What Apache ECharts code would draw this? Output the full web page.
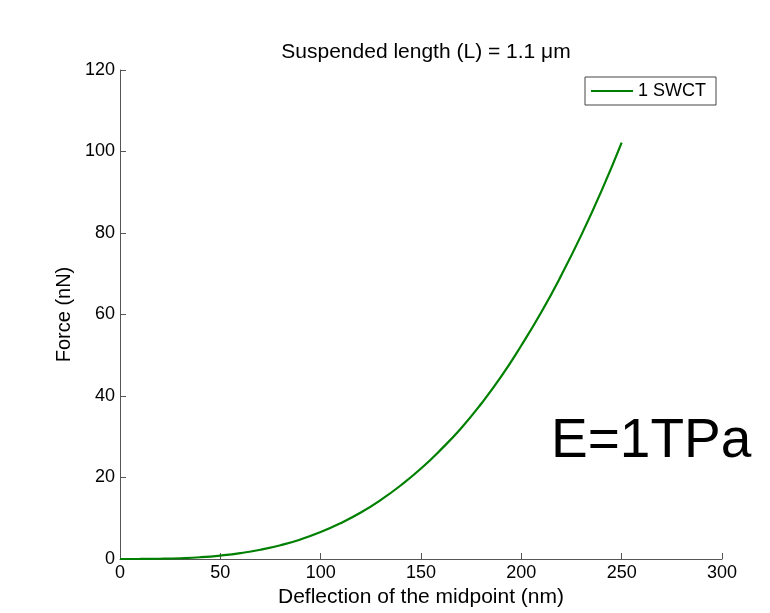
<!DOCTYPE html>
<html>
<head>
<meta charset="utf-8">
<script src="https://cdn.jsdelivr.net/npm/echarts@6/dist/echarts.min.js"></script>
<style>
  html, body { margin: 0; padding: 0; background: #fff; }
  #chart { width: 770px; height: 613px; }
</style>
</head>
<body>
<div id="chart"></div>
<script>
// Midpoint deflection (nm) and applied force (nN) for one SWCNT, L = 1.1 µm
const deflection = [0, 10, 20, 30, 40, 50, 60, 70, 80, 90, 100, 110, 120, 130, 140, 150, 160, 170, 180, 190, 200, 210, 220, 230, 240, 250];
const force = [0, 0.01, 0.06, 0.19, 0.43, 0.84, 1.43, 2.27, 3.38, 4.8, 6.6, 8.8, 11.4, 14.5, 18.1, 22.2, 26.9, 32.1, 38.1, 44.8, 52.4, 60.6, 69.7, 79.6, 90.4, 102.2];
const seriesName = '1 SWCT';
const xTicks = [0, 50, 100, 150, 200, 250, 300];
const yTicks = [0, 20, 40, 60, 80, 100, 120];

const FONT = '"Liberation Sans", Arial, sans-serif';
const axisColor = '#555';

const chart = echarts.init(document.getElementById('chart'), null, { renderer: 'canvas' });

chart.setOption({
  animation: false,
  backgroundColor: '#fff',
  title: {
    text: 'Suspended length (L) = 1.1 \u03bcm',
    left: 421,
    textAlign: 'center',
    top: 37,
    textStyle: { fontFamily: FONT, fontSize: 21, fontWeight: 'normal', color: '#000' }
  },
  grid: { left: 120, right: 48, top: 70, bottom: 53 },
  legend: {
    data: [seriesName],
    left: 585,
    top: 77,
    orient: 'vertical',
    padding: [5, 10, 5, 6],
    itemWidth: 42,
    itemHeight: 18,
    itemGap: 4,
    borderColor: '#444',
    borderWidth: 1,
    borderRadius: 0,
    icon: 'path://M0,8 L42,8 L42,10 L0,10 Z',
    textStyle: { fontFamily: FONT, fontSize: 18, color: '#000', padding: [0, 0, 0, 0] }
  },
  xAxis: {
    type: 'value',
    min: xTicks[0],
    max: xTicks[xTicks.length - 1],
    interval: 50,
    name: 'Deflection of the midpoint (nm)',
    nameLocation: 'middle',
    nameGap: 28,
    nameTextStyle: { fontFamily: FONT, fontSize: 21, color: '#000' },
    axisLine: { show: true, lineStyle: { color: axisColor, width: 1 } },
    axisTick: { show: true, inside: true, length: 6, lineStyle: { color: axisColor } },
    axisLabel: { fontFamily: FONT, fontSize: 18, color: '#000', margin: 5 },
    splitLine: { show: false }
  },
  yAxis: {
    type: 'value',
    min: yTicks[0],
    max: yTicks[yTicks.length - 1],
    interval: 20,
    name: 'Force (nN)',
    nameLocation: 'middle',
    nameGap: 46,
    nameTextStyle: { fontFamily: FONT, fontSize: 20, color: '#000' },
    axisLine: { show: true, lineStyle: { color: axisColor, width: 1 } },
    axisTick: { show: true, inside: true, length: 6, lineStyle: { color: axisColor } },
    axisLabel: { fontFamily: FONT, fontSize: 18, color: '#000', margin: 5 },
    splitLine: { show: false }
  },
  series: [{
    name: seriesName,
    type: 'line',
    data: deflection.map((d, i) => [d, force[i]]),
    smooth: true,
    showSymbol: false,
    lineStyle: { color: '#008000', width: 2.2 },
    itemStyle: { color: '#008000' }
  }],
  graphic: [{
    type: 'text',
    left: 551,
    top: 414,
    style: { text: 'E=1TPa', fontFamily: FONT, fontSize: 55, fill: '#000' }
  }]
});
</script>
</body>
</html>
